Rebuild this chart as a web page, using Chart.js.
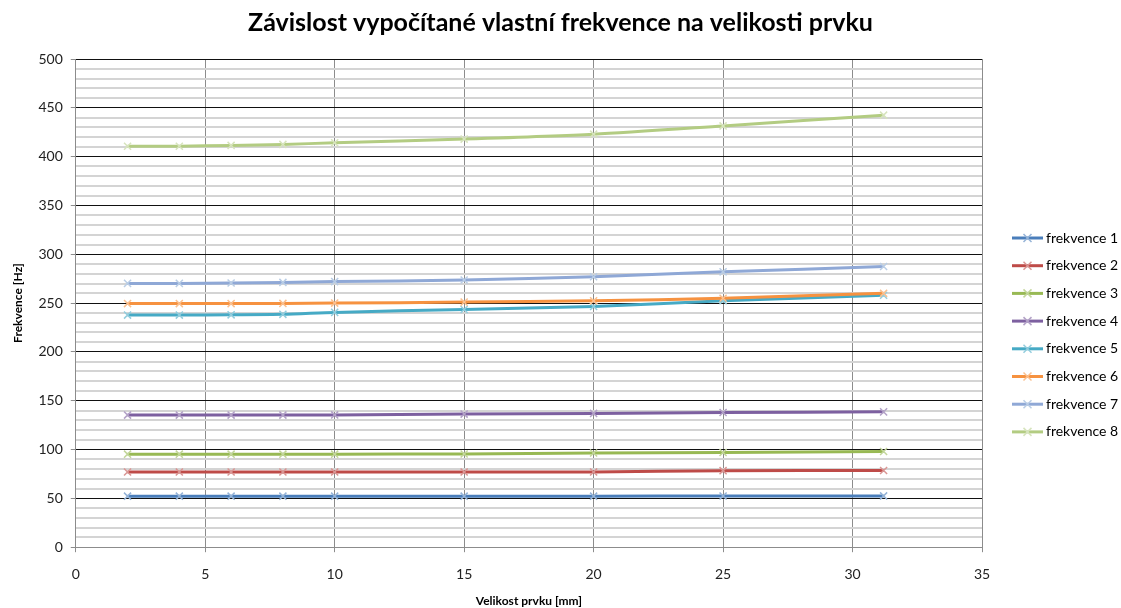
<!DOCTYPE html>
<html>
<head>
<meta charset="utf-8">
<script src="https://cdn.jsdelivr.net/npm/chart.js@4.4.0/dist/chart.umd.min.js"></script>
<style>
    body { margin: 0; background: #fff; }
    #wrap { width: 1121px; height: 608px; }
</style>
</head>
<body>
<div id="wrap"><canvas id="chart" width="1121" height="608"></canvas></div>
<script>
const sizes = [2, 4, 6, 8, 10, 15, 20, 25, 31.2];

const seriesNames = ['frekvence 1', 'frekvence 2', 'frekvence 3', 'frekvence 4',
    'frekvence 5', 'frekvence 6', 'frekvence 7', 'frekvence 8'];

const freq1 = [52.3, 52.3, 52.3, 52.3, 52.3, 52.3, 52.3, 52.4, 52.5];
const freq2 = [77, 77, 77, 77, 77, 77, 77, 78.4, 78.5];
const freq3 = [95.3, 95.3, 95.3, 95.3, 95.3, 95.5, 96.5, 97, 98];
const freq4 = [135.3, 135.3, 135.3, 135.3, 135.5, 136.3, 137, 138, 138.6];
const freq5 = [237.7, 237.7, 238, 238.5, 240.5, 243.5, 246.5, 252.5, 258];
const freq6 = [249.5, 249.5, 249.5, 249.7, 250, 251, 252.3, 255, 260];
const freq7 = [270.2, 270.2, 270.6, 271.2, 272, 273.6, 277, 282, 287.5];
const freq8 = [410.7, 410.7, 411.5, 412.5, 414.2, 418, 423, 431.5, 442.5];

const allSeries = [freq1, freq2, freq3, freq4, freq5, freq6, freq7, freq8];

const chartTitle = 'Závislost vypočítané vlastní frekvence na velikosti prvku';

const lineColors = ['#4A7EBB', '#BE4B48', '#98B954', '#7D60A0', '#46AAC5', '#F69240', '#8FA8D6', '#B3CC82'];
const markerColors = ['#95B3D7', '#D99694', '#C3D69B', '#B3A2C7', '#93CDDD', '#FAC090', '#B9CDE5', '#D7E4BD'];

const FONT = 'Lato, "Open Sans", sans-serif';

const datasets = allSeries.map((values, i) => ({
    label: seriesNames[i],
    data: values.map((v, j) => ({ x: sizes[j], y: v })),
    borderColor: lineColors[i],
    borderWidth: 3,
    tension: 0.25,
    pointStyle: 'crossRot',
    pointRadius: 5,
    pointBorderColor: markerColors[i],
    pointBorderWidth: 1.5,
    pointBackgroundColor: markerColors[i],
    order: allSeries.length - i
}));

// title centred on the whole canvas, legend on the right with line + cross samples
const titleAndLegend = {
    id: 'titleAndLegend',
    afterDraw(chart) {
        const ctx = chart.ctx;
        const area = chart.chartArea;
        ctx.save();

        ctx.font = 'bold 25px ' + FONT;
        ctx.fillStyle = '#000';
        ctx.textAlign = 'center';
        ctx.textBaseline = 'middle';
        ctx.fillText(chartTitle, chart.width / 2, 23);

        const x0 = area.right + 30;
        const y0 = 238;
        const step = 27.7;
        ctx.font = '14px ' + FONT;
        ctx.textAlign = 'left';
        chart.data.datasets.forEach((ds, i) => {
            const y = y0 + i * step;
            ctx.strokeStyle = ds.borderColor;
            ctx.lineWidth = 3;
            ctx.beginPath();
            ctx.moveTo(x0, y);
            ctx.lineTo(x0 + 31, y);
            ctx.stroke();
            ctx.strokeStyle = ds.pointBorderColor;
            ctx.lineWidth = 1.5;
            const cx = x0 + 15.5;
            ctx.beginPath();
            ctx.moveTo(cx - 4, y - 4); ctx.lineTo(cx + 4, y + 4);
            ctx.moveTo(cx - 4, y + 4); ctx.lineTo(cx + 4, y - 4);
            ctx.stroke();
            ctx.fillStyle = '#000';
            ctx.fillText(ds.label, x0 + 34, y);
        });
        ctx.restore();
    }
};

new Chart(document.getElementById('chart'), {
    type: 'line',
    data: { datasets },
    options: {
        responsive: false,
        animation: false,
        devicePixelRatio: 1,
        layout: { padding: { top: 59, right: 139, bottom: 0, left: 0 } },
        plugins: {
            legend: { display: false },
            tooltip: { enabled: false },
            title: { display: false }
        },
        scales: {
            x: {
                type: 'linear',
                min: 0,
                max: 35,
                ticks: {
                    stepSize: 5,
                    color: '#222',
                    padding: 14,
                    font: { family: FONT, size: 14 }
                },
                grid: {
                    color: '#8c8c8c',
                    lineWidth: 1,
                    tickLength: 5,
                    tickColor: '#8c8c8c'
                },
                border: { color: '#8c8c8c' },
                title: {
                    display: true,
                    text: 'Velikost prvku [mm]',
                    color: '#000',
                    font: { family: FONT, size: 12, weight: 'bold', lineHeight: 1 },
                    padding: { top: -2, bottom: 1 }
                }
            },
            y: {
                min: 0,
                max: 500,
                ticks: {
                    stepSize: 10,
                    autoSkip: false,
                    color: '#222',
                    padding: 8,
                    font: { family: FONT, size: 14 },
                    callback: v => (v % 50 === 0 ? v : '')
                },
                grid: {
                    color: c => (c.tick && c.tick.value % 50 === 0 ? '#111' : '#d4d4d4'),
                    lineWidth: c => (c.tick && c.tick.value % 50 === 0 ? 1 : 2),
                    tickLength: 5,
                    tickColor: c => (c.tick && c.tick.value % 50 === 0 ? '#8c8c8c' : 'rgba(0,0,0,0)')
                },
                border: { color: '#8c8c8c' },
                title: {
                    display: true,
                    text: 'Frekvence [Hz]',
                    color: '#000',
                    font: { family: FONT, size: 12, weight: 'bold' },
                    padding: { top: 11, bottom: 5 }
                }
            }
        }
    },
    plugins: [titleAndLegend]
});
</script>
</body>
</html>
